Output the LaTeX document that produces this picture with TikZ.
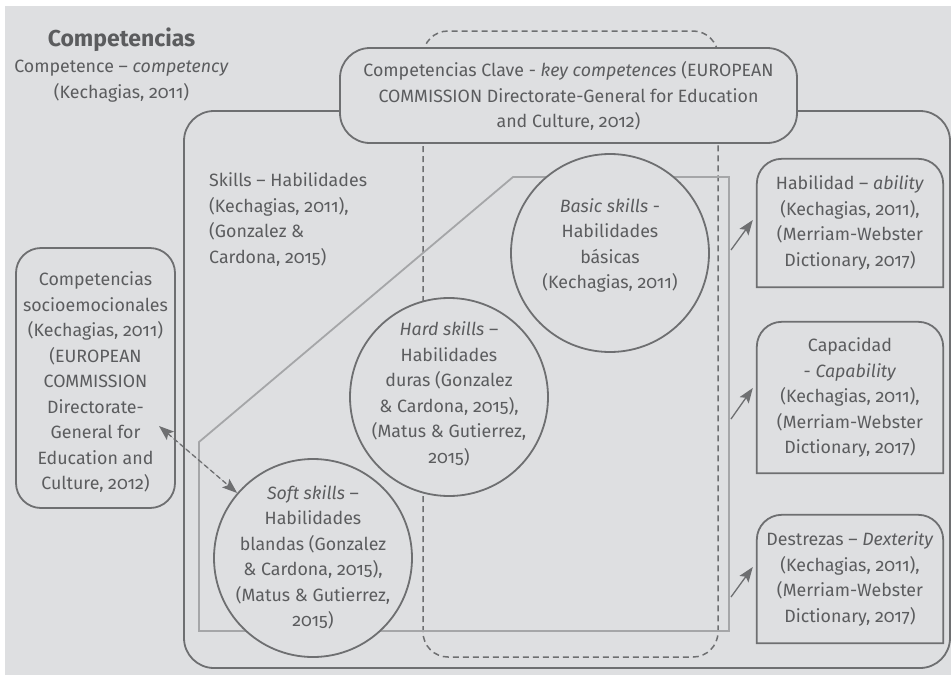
\documentclass[tikz,border=0pt]{standalone}
\usepackage{fontspec}
\setmainfont{Fira Sans}[Numbers=OldStyle]
\usetikzlibrary{arrows.meta}
\definecolor{bg}{HTML}{DEDFE1}
\definecolor{txt}{HTML}{5B5C5E}
\definecolor{ln}{HTML}{6E6F71}
\definecolor{lt}{HTML}{A5A6A8}
\begin{document}
\begin{tikzpicture}[x=1pt,y=-1pt,
  txtf/.style={font=\fontsize{17.8}{25.5}\selectfont, text=txt, align=center, inner sep=0pt},
  dark/.style={draw=ln, line width=1.8pt},
  circ/.style={dark, circle, fill=bg, minimum size=198pt, inner sep=0pt},
  dashline/.style={draw=ln, line width=1.5pt, dash pattern=on 6pt off 4pt},
  arr/.style={draw=ln, fill=ln, line width=1.3pt, -{Stealth[length=15pt,width=11pt,inset=3pt]}},
  darr/.style={draw=ln, fill=ln, line width=1.3pt, dash pattern=on 5pt off 3pt,
    {Stealth[length=15pt,width=11pt,inset=3pt]}-{Stealth[length=15pt,width=11pt,inset=3pt]}}
]
\useasboundingbox (0,0) rectangle (951,675);
\fill[bg] (5,6) rectangle (951,675);

% dashed key-competences area
\draw[dashline, rounded corners=25pt] (423,31) rectangle (718,657);
% skills big box
\draw[dark, rounded corners=30pt] (184,111) rectangle (950,668);
% light polygon
\draw[lt, line width=1.8pt] (199,442) -- (513,177) -- (729,177) -- (729,631) -- (199,631) -- cycle;

% title
\node[font=\bfseries\fontsize{23}{27}\selectfont, text=txt, inner sep=0pt] (title) at (121.5,40) {Competencias};
\node[txtf] (comp) at (121.5,81) {Competence – \textit{competency}\\(Kechagias, 2011)};

% key competences box
\node[dark, fill=bg, rounded corners=30pt, minimum width=457pt, minimum height=95pt, inner sep=0pt] (key) at (568.5,95.5) {};
\node[txtf] (keyt) at (568.5,96) {Competencias Clave - \textit{key competences} (EUROPEAN\\COMMISSION Directorate-General for Education\\and Culture, 2012)};

% skills text
\node[txtf, align=left, anchor=west] (skills) at (209,219.5) {Skills – Habilidades\\(Kechagias, 2011),\\(Gonzalez \&\\Cardona, 2015)};

% circles
\node[circ] (basic) at (610,253) {};
\node[txtf] (basict) at (610,245.5) {\textit{Basic skills} -\\Habilidades\\básicas\\(Kechagias, 2011)};
\node[circ] (hard) at (449,397) {};
\node[txtf] (hardt) at (449,394) {\textit{Hard skills} –\\Habilidades\\duras (Gonzalez\\\& Cardona, 2015),\\(Matus \& Gutierrez,\\2015)};
\node[circ] (soft) at (313,558) {};
\node[txtf] (softt) at (313,557.5) {\textit{Soft skills} –\\Habilidades\\blandas (Gonzalez\\\& Cardona, 2015),\\(Matus \& Gutierrez,\\2015)};

% socioemotional box
\node[dark, fill=bg, rounded corners=25pt, minimum width=159pt, minimum height=260pt, inner sep=0pt] (socio) at (95.5,378) {};
\node[txtf] (sociot) at (95.5,382.5) {Competencias\\socioemocionales\\(Kechagias, 2011)\\(EUROPEAN\\COMMISSION\\Directorate-\\General for\\Education and\\Culture, 2012)};
\coordinate (sa) at (159,426);
\draw[darr] (sa) -- (soft);

% right boxes
\node[txtf, minimum width=186pt, minimum height=128pt] (hab) at (850,223) {Habilidad – \textit{ability}\\(Kechagias, 2011),\\(Merriam-Webster\\Dictionary, 2017)};
\node[txtf, minimum width=186pt, minimum height=151pt] (cap) at (850,397.5) {Capacidad\\- \textit{Capability}\\(Kechagias, 2011),\\(Merriam-Webster\\Dictionary, 2017)};
\node[txtf, minimum width=186pt, minimum height=128pt] (des) at (850,579) {Destrezas – \textit{Dexterity}\\(Kechagias, 2011),\\(Merriam-Webster\\Dictionary, 2017)};
\foreach \b in {hab,cap,des}{
  \draw[dark] (\b.south west) -- ([yshift=-25pt]\b.north west) arc[start angle=180,end angle=90,radius=25pt]
    -- ([xshift=-25pt]\b.north east) arc[start angle=90,end angle=0,radius=25pt] -- (\b.south east) -- cycle;
}
\coordinate (a1) at (731,250);
\coordinate (a2) at (731,419);
\coordinate (a3) at (731,597);
\draw[arr] (a1) -- ([xshift=-4pt,yshift=3pt]hab.west);
\draw[arr] (a2) -- ([xshift=-4pt,yshift=9.5pt]cap.west);
\draw[arr] (a3) -- ([xshift=-4pt,yshift=12pt]des.west);
\end{tikzpicture}
\end{document}
